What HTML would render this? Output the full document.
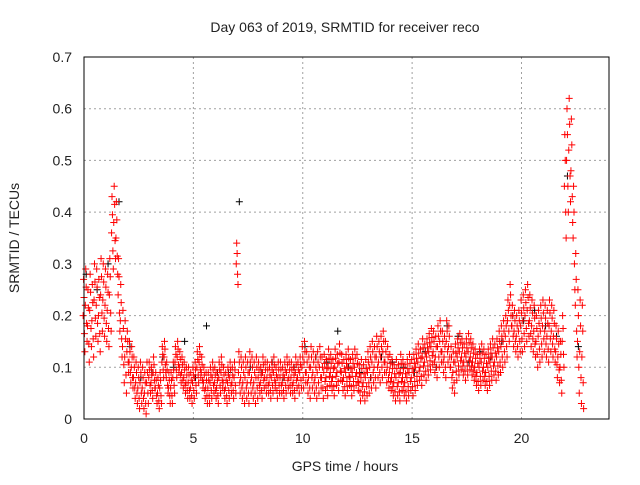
<!DOCTYPE html>
<html><head><meta charset="utf-8"><style>
body{margin:0;background:#fff}
svg text{font-family:"Liberation Sans",sans-serif;font-size:14px;fill:#222}
</style></head><body>
<svg id="chart" width="640" height="480" xmlns="http://www.w3.org/2000/svg">
<text x="345" y="32" text-anchor="middle">Day 063 of 2019, SRMTID for receiver reco</text>
<text x="345" y="471" text-anchor="middle">GPS time / hours</text>
<text transform="translate(19,238) rotate(-90)" text-anchor="middle">SRMTID / TECUs</text>
<g id="grid"></g>
<g id="ticks"></g>
<g id="black"></g>
<g id="red"></g>
<rect x="84" y="57" width="525" height="362" fill="none" stroke="#000" stroke-width="1"/>
</svg>
<script>
const xTicks=[0,5,10,15,20];
const yTicks=[0,0.1,0.2,0.3,0.4,0.5,0.6,0.7];
const yTickLabels=["0","0.1","0.2","0.3","0.4","0.5","0.6","0.7"];
const sampleStep=0.1;
const redMid=[0.20,0.22,0.18,0.21,0.19,0.23,0.22,0.20,0.24,0.23,
0.22,0.21,0.24,0.36,0.38,0.35,0.24,0.19,0.14,0.12,
0.13,0.11,0.10,0.08,0.07,0.06,0.07,0.06,0.05,0.07,
0.08,0.07,0.09,0.06,0.05,0.06,0.11,0.12,0.08,0.06,
0.06,0.08,0.11,0.12,0.10,0.09,0.08,0.07,0.07,0.06,
0.07,0.08,0.10,0.11,0.09,0.07,0.06,0.06,0.07,0.08,
0.07,0.06,0.08,0.09,0.07,0.06,0.07,0.08,0.07,0.08,
0.30,0.09,0.08,0.07,0.08,0.07,0.09,0.08,0.07,0.08,
0.08,0.07,0.09,0.08,0.08,0.07,0.08,0.09,0.07,0.08,
0.08,0.07,0.08,0.09,0.08,0.08,0.07,0.09,0.08,0.09,
0.10,0.11,0.09,0.08,0.10,0.09,0.08,0.09,0.10,0.08,
0.09,0.08,0.10,0.09,0.08,0.10,0.09,0.11,0.09,0.08,
0.09,0.10,0.08,0.09,0.10,0.09,0.07,0.08,0.07,0.08,
0.09,0.10,0.11,0.10,0.12,0.11,0.12,0.13,0.11,0.10,
0.09,0.08,0.07,0.08,0.07,0.09,0.08,0.07,0.08,0.09,
0.08,0.09,0.10,0.11,0.10,0.12,0.11,0.12,0.13,0.14,
0.13,0.12,0.14,0.15,0.13,0.12,0.15,0.14,0.10,0.09,
0.11,0.12,0.13,0.12,0.11,0.12,0.13,0.12,0.11,0.10,
0.09,0.10,0.11,0.10,0.09,0.10,0.11,0.12,0.11,0.12,
0.13,0.14,0.15,0.16,0.19,0.22,0.18,0.17,0.16,0.17,
0.18,0.19,0.20,0.21,0.19,0.18,0.17,0.15,0.16,0.17,
0.18,0.17,0.16,0.18,0.17,0.16,0.13,0.12,0.10,0.15,
0.45,0.50,0.52,0.48,0.35,0.22,0.15,0.13,0.12];
const redSpreadByHour=[0.07,0.07,0.04,0.03,0.03,0.03,0.03,0.04,0.03,0.03,0.04,0.035,0.035,0.04,0.035,0.035,0.04,0.035,0.035,0.04,0.05,0.05,0.1];
const blackStep=0.5;
const blackVals=[0.28,0.25,0.30,0.42,0.14,0.08,0.09,0.12,0.10,0.15,0.08,0.18,0.09,0.09,0.42,0.10,0.09,0.11,0.08,0.10,0.14,0.12,0.11,0.17,0.10,0.09,0.08,0.12,0.11,0.10,0.09,0.13,0.10,0.18,0.16,0.11,0.13,0.12,0.15,0.20,0.19,0.21,0.18,0.16,0.47,0.14];
const X=h=>84+h*(525/24), Y=v=>419-v*(362/0.7);
const NS="http://www.w3.org/2000/svg";
function mk(tag,parent){const e=document.createElementNS(NS,tag);parent.appendChild(e);return e;}
const grid=document.getElementById('grid'),ticks=document.getElementById('ticks');
xTicks.forEach(t=>{
  if(t>0){const l=mk('line',grid);
  
  
  l.setAttribute('x1',X(t));l.setAttribute('x2',X(t));l.setAttribute('y1',57);l.setAttribute('y2',419);l.setAttribute('stroke','#a0a0a0');l.setAttribute('stroke-dasharray','2,3');}
  const tx=mk('text',ticks);
  
  
  tx.setAttribute('x',X(t));tx.setAttribute('y',443);tx.setAttribute('text-anchor','middle');tx.textContent=t;
});
yTicks.forEach((t,i)=>{
  if(t>0&&t<0.7){const l=mk('line',grid);
  
  
  l.setAttribute('x1',84);l.setAttribute('x2',609);l.setAttribute('y1',Y(t));l.setAttribute('y2',Y(t));l.setAttribute('stroke','#a0a0a0');l.setAttribute('stroke-dasharray','2,3');}
  const tx=mk('text',ticks);
  
  
  tx.setAttribute('x',72);tx.setAttribute('y',Y(t)+5);tx.setAttribute('text-anchor','end');tx.textContent=yTickLabels[i];
});
function plus(g,h,v,col){
  if(v<0)v=0;
  const p=mk('path',g);
  
  
  const x=X(h),y=Y(v);
  p.setAttribute('d',`M${x-3.5} ${y}H${x+3.5}M${x} ${y-3.5}V${y+3.5}`);
  p.setAttribute('stroke',col);p.setAttribute('stroke-width','1');
}
const bg=document.getElementById('black'),rg=document.getElementById('red');
blackVals.forEach((v,i)=>plus(bg,i*blackStep+0.1,v,'#000'));
const offs=[[-0.04,0],[-0.02,1],[0,0.5],[0.02,-0.5],[0.04,-1]];
redMid.forEach((v,i)=>{
  const h=i*sampleStep,s=redSpreadByHour[Math.min(22,Math.floor(h))];
  offs.forEach(o=>plus(rg,h+o[0],v+o[1]*s,'#f00'));
});
</script>
</body></html>
